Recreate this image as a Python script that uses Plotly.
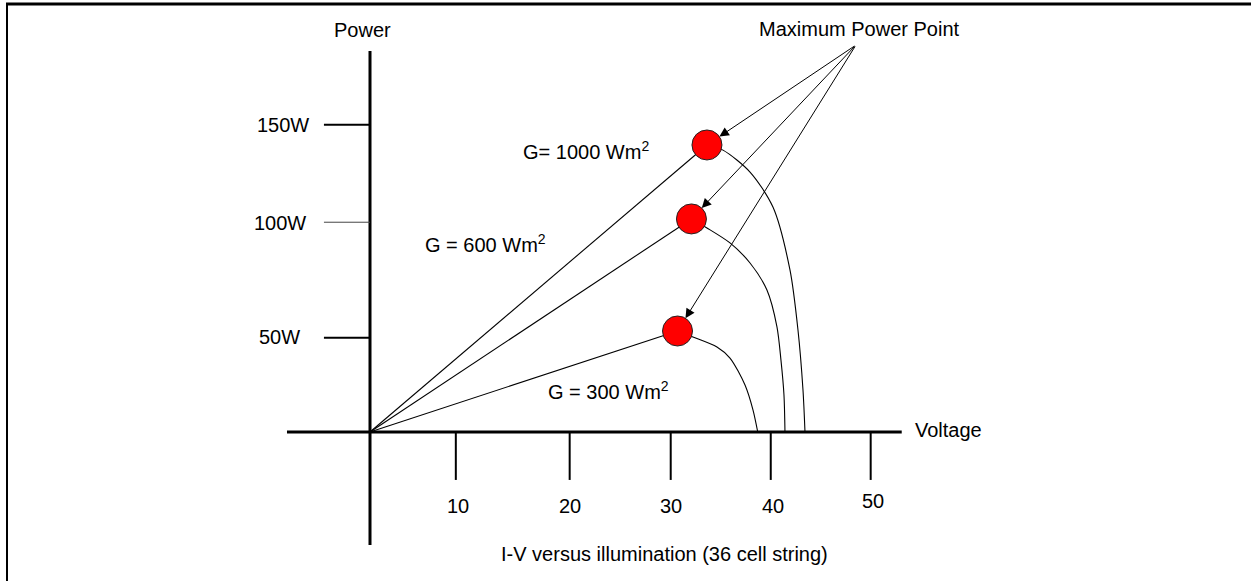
import plotly.graph_objects as go

# ---------------- data (voltage in V, power in W) ----------------
irradiance_labels = ["G= 1000 Wm<sup>2</sup>", "G = 600 Wm<sup>2</sup>", "G = 300 Wm<sup>2</sup>"]

mpp_v = [33.65, 32.1, 30.71]
mpp_p = [140.1, 104.0, 49.3]

# falling part of each P-V curve (after the maximum power point)
tail_v_1000 = [33.65, 35.25, 37.95, 40.24, 41.94, 42.74, 43.24, 43.44]
tail_p_1000 = [140.1, 137.6, 126.9, 109.8, 79.1, 49.8, 20.5, 0.0]
tail_v_600 = [32.1, 33.65, 35.95, 37.95, 39.64, 40.64, 41.04, 41.34, 41.44]
tail_p_600 = [104.0, 99.6, 92.3, 82.5, 69.3, 51.3, 35.1, 18.1, 0.0]
tail_v_300 = [30.71, 32.25, 34.65, 35.95, 37.45, 38.25, 38.72]
tail_p_300 = [49.3, 46.4, 41.5, 36.1, 22.9, 10.7, 0.0]

volt_tick_labels = ["10", "20", "30", "40", "50"]
volt_tick_pos = [8.57, 19.94, 30.03, 40.02, 50.0]
volt_label_pos = [8.79, 19.97, 30.06, 40.24, 50.23]
volt_label_p = [-36.1, -36.1, -36.1, -36.1, -33.7]

power_tick_labels = ["150W", "100W", "50W"]
power_tick_pos = [150.0, 102.4, 46.0]
power_label_pos = [149.9, 102.0, 46.5]
power_label_v = [-8.69, -8.94, -9.04]

# ---------------- figure ----------------
W, H = 1251, 581
FONT = "Arial, 'Liberation Sans', Helvetica, sans-serif"
x_range = [-36.95, 87.98]
y_range = [-72.73, 210.87]
FS = 20

fig = go.Figure()

tails = [(tail_v_1000, tail_p_1000), (tail_v_600, tail_p_600), (tail_v_300, tail_p_300)]
for (tv, tp), mv, mp in zip(tails, mpp_v, mpp_p):
    # rising straight part from origin to the MPP
    fig.add_trace(go.Scatter(x=[0, mv], y=[0, mp], mode="lines",
                             line=dict(color="black", width=1.1), hoverinfo="skip"))
    # falling curved part
    fig.add_trace(go.Scatter(x=tv, y=tp, mode="lines",
                             line=dict(color="black", width=1.1, shape="spline", smoothing=0.8),
                             hoverinfo="skip"))

fig.add_trace(go.Scatter(x=mpp_v, y=mpp_p, mode="markers",
                         marker=dict(size=30, color="#ff0000",
                                     line=dict(color="#222222", width=1)),
                         hoverinfo="skip"))

shapes = []
# axes
shapes.append(dict(type="line", xref="x", yref="y", x0=0, x1=0, y0=-55.2, y1=186.0,
                   line=dict(color="black", width=3)))
shapes.append(dict(type="line", xref="x", yref="y", x0=-8.29, x1=53.1, y0=0, y1=0,
                   line=dict(color="black", width=3)))
# voltage ticks
for tv in volt_tick_pos:
    shapes.append(dict(type="line", xref="x", yref="y", x0=tv, x1=tv, y0=0, y1=-23.4,
                       line=dict(color="black", width=2)))
# power ticks
for i, tp in enumerate(power_tick_pos):
    shapes.append(dict(type="line", xref="x", yref="y", x0=-4.6, x1=0, y0=tp, y1=tp,
                       line=dict(color="black" if i != 1 else "#444444",
                                 width=2 if i != 1 else 1)))
# frame
shapes.append(dict(type="line", xref="paper", yref="paper", x0=6 / W, x1=1.0,
                   y0=1 - 4 / H, y1=1 - 4 / H, line=dict(color="black", width=3)))
shapes.append(dict(type="line", xref="paper", yref="paper", x0=7 / W, x1=7 / W,
                   y0=0, y1=1 - 4 / H, line=dict(color="black", width=2)))


def txt(**kw):
    base = dict(xref="x", yref="y", showarrow=False, xanchor="center", yanchor="middle",
                font=dict(size=FS, color="black", family=FONT))
    base.update(kw)
    return base


ann = []
for lab, pos, pp in zip(volt_tick_labels, volt_label_pos, volt_label_p):
    ann.append(txt(x=pos, y=pp, text=lab))
for lab, pos, pv in zip(power_tick_labels, power_label_pos, power_label_v):
    ann.append(txt(x=pv, y=pos, text=lab))

ann.append(txt(x=21.57, y=137.6, text=irradiance_labels[0]))
ann.append(txt(x=11.53, y=92.25, text=irradiance_labels[1]))
ann.append(txt(x=23.77, y=20.5, text=irradiance_labels[2]))

ann.append(txt(x=54.22, y=1.0, text="Voltage", xanchor="left"))
ann.append(txt(x=-0.75, y=196.2, text="Power"))
ann.append(txt(x=48.93, y=196.7, text="Maximum Power Point"))

# arrows from the label to each maximum power point
for mv, mp in zip(mpp_v, mpp_p):
    ann.append(dict(x=mv, y=mp, xref="x", yref="y", ax=48.53, ay=188.9,
                    axref="x", ayref="y", text="", showarrow=True,
                    arrowhead=2, arrowsize=1.9, arrowwidth=1, arrowcolor="black",
                    standoff=15))

ann.append(dict(x=665 / W, y=1 - 554 / H, xref="paper", yref="paper",
                xanchor="center", yanchor="middle",
                text="I-V versus illumination (36 cell string)", showarrow=False,
                font=dict(size=FS, color="black", family=FONT)))

fig.update_layout(
    width=W, height=H, margin=dict(l=0, r=0, t=0, b=0),
    paper_bgcolor="white", plot_bgcolor="white", showlegend=False,
    xaxis=dict(range=x_range, visible=False, fixedrange=True),
    yaxis=dict(range=y_range, visible=False, fixedrange=True),
    shapes=shapes, annotations=ann,
)

fig.write_html("out.html")
